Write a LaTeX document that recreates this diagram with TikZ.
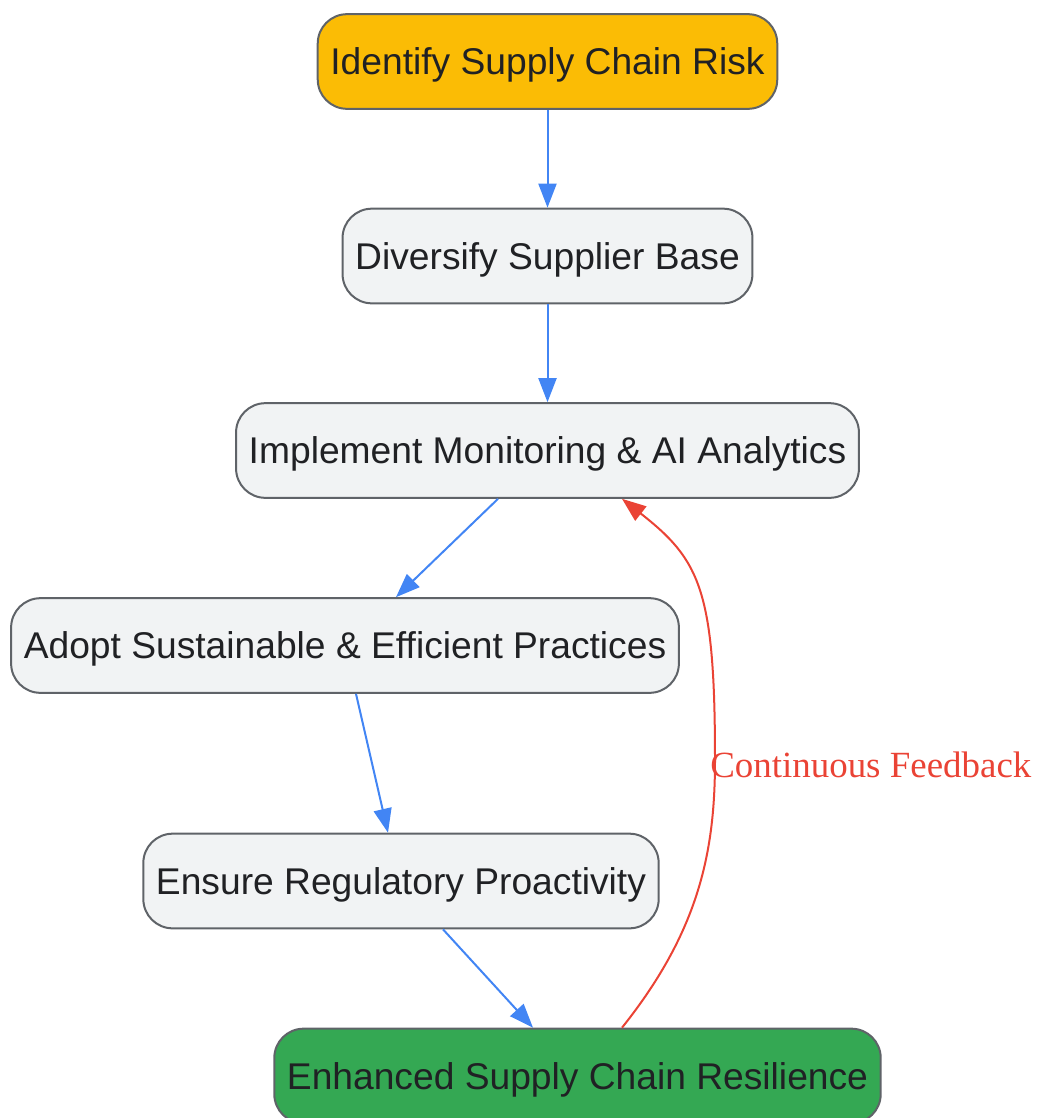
\documentclass[tikz,border=0pt]{standalone}
\usepackage{fontspec}
\setmainfont{Liberation Sans}
\newfontfamily\fbfont{Liberation Serif}
\usetikzlibrary{arrows.meta, calc}

\definecolor{boxgray}{HTML}{F1F3F4}
\definecolor{boxline}{HTML}{5F6368}
\definecolor{ink}{HTML}{202124}
\definecolor{gyellow}{HTML}{FBBC05}
\definecolor{ggreen}{HTML}{34A853}
\definecolor{gblue}{HTML}{4285F4}
\definecolor{gred}{HTML}{EA4335}

\begin{document}
\begin{tikzpicture}[x=0.75pt, y=-0.75pt,
    step box/.style={draw=boxline, line width=1.5pt, fill=boxgray, rounded corners=22pt,
      minimum height=71pt, inner xsep=9.5pt, text height=24pt, text depth=3.8pt,
      text=ink, font=\fontsize{27.9}{33}\selectfont},
    flow/.style={draw=gblue, line width=1.5pt, -{Triangle[length=18pt, width=13.5pt]}},
    fb/.style={draw=gred, line width=1.5pt, -{Triangle[length=18pt, width=13.5pt]}}]
    \useasboundingbox (0, 0) rectangle (1036, 1118);
    \node[step box, fill=gyellow] (risk) at (547.5, 61.5) {Identify Supply Chain Risk};
    \node[step box] (diversify) at (547.5, 256) {Diversify Supplier Base};
    \node[step box] (monitor) at (547.5, 450.5) {Implement Monitoring \& AI Analytics};
    \node[step box] (adopt) at (345, 645.5) {Adopt Sustainable \& Efficient Practices};
    \node[step box] (ensure) at (401, 881) {Ensure Regulatory Proactivity};
    \node[step box, fill=ggreen] (resilience) at (577.5, 1076) {Enhanced Supply Chain Resilience};
    \draw[flow] (risk) -- (diversify);
    \draw[flow] (diversify) -- (monitor);
    \draw[flow] ($(monitor.south)+(-49.5, 0)$) -- ($(adopt.north)+(51, 0)$);
    \draw[flow] ($(adopt.south)+(11, 0)$) -- ($(ensure.north)+(-13, 0)$);
    \draw[flow] ($(ensure.south)+(42, 0)$) -- ($(resilience.north)+(-44.5, 0)$);
    % feedback loop back up
    \draw[fb] ($(resilience.north)+(44.5, 0)$) .. controls (700, 930) and (715, 850) .. (715, 760)
          .. controls (715, 590) and (700, 560) .. ($(monitor.south)+(74.5, 0)$);
    \node[anchor=west, inner sep=0pt, text=gred, font=\fbfont\fontsize{27.7}{33}\selectfont]
          (feedback) at (710, 765) {Continuous Feedback};
  \end{tikzpicture}
\end{document}
